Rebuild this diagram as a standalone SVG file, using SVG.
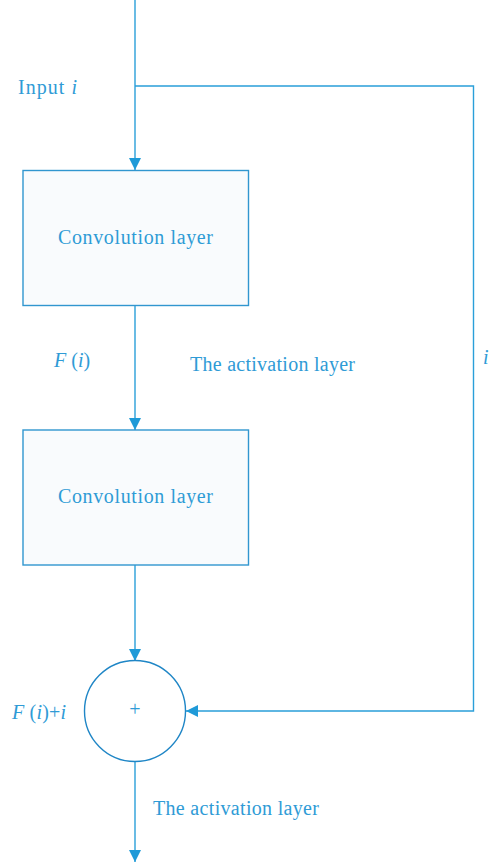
<svg xmlns="http://www.w3.org/2000/svg" width="490" height="867" viewBox="0 0 490 867">
  <style>
    .wire { fill: none; stroke: #2a9fd9; stroke-width: 1.4; }
    .box { fill: #f9fbfd; stroke: #3196cf; stroke-width: 1.4; }
    .sum { fill: #ffffff; stroke: #1f86c6; stroke-width: 1.4; }
    text { font-family: "Liberation Serif", "DejaVu Serif", serif; font-size: 20px; fill: #2f9bd6; }
    .it { font-style: italic; }
  </style>
  <defs>
    <marker id="arrow" viewBox="0 0 12 12" refX="12" refY="6" markerWidth="12" markerHeight="12" markerUnits="userSpaceOnUse" orient="auto">
      <path d="M0,0 L12,6 L0,12 Z" fill="#1f9ad8"/>
    </marker>
  </defs>
  <rect width="490" height="867" fill="#ffffff"/>

  <g id="connectors">
    <path class="wire" d="M135,0 V170" marker-end="url(#arrow)"/>
    <path class="wire" d="M135,86 H473.5 V711 H186" marker-end="url(#arrow)"/>
    <path class="wire" d="M135,305 V430" marker-end="url(#arrow)"/>
    <path class="wire" d="M135,565 V661" marker-end="url(#arrow)"/>
    <path class="wire" d="M135,761 V862" marker-end="url(#arrow)"/>
  </g>

  <g id="conv1">
    <rect class="box" x="23" y="170.5" width="225.5" height="135"/>
    <text x="58" y="244" textLength="155" lengthAdjust="spacing">Convolution layer</text>
  </g>
  <g id="conv2">
    <rect class="box" x="23" y="430" width="225.5" height="135"/>
    <text x="58" y="503" textLength="155" lengthAdjust="spacing">Convolution layer</text>
  </g>
  <g id="sum">
    <circle class="sum" cx="135" cy="711" r="50.5"/>
    <text x="135" y="716" text-anchor="middle" font-size="14">+</text>
  </g>

  <g id="labels">
    <text x="18" y="94" textLength="59" lengthAdjust="spacing">Input <tspan class="it">i</tspan></text>
    <text x="54" y="367"><tspan class="it">F</tspan> (<tspan class="it">i</tspan>)</text>
    <text x="190" y="371" textLength="165" lengthAdjust="spacing">The activation layer</text>
    <text x="483" y="364" class="it">i</text>
    <text x="12" y="719" textLength="54" lengthAdjust="spacing"><tspan class="it">F</tspan> (<tspan class="it">i</tspan>)+<tspan class="it">i</tspan></text>
    <text x="153" y="815" textLength="166" lengthAdjust="spacing">The activation layer</text>
  </g>
</svg>
